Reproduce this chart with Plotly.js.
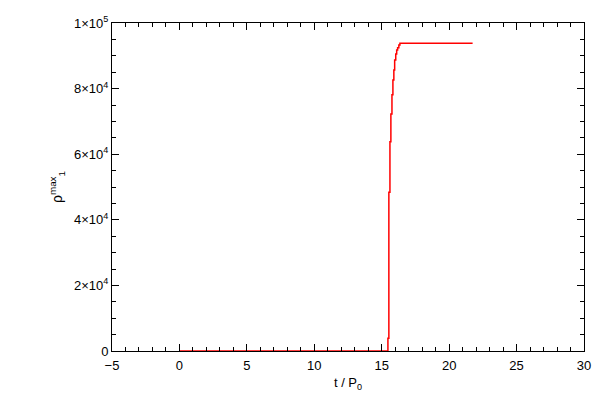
<!DOCTYPE html>
<html>
<head>
<meta charset="utf-8">
<script src="https://cdn.plot.ly/plotly-3.0.1.min.js"></script>
<style>html,body{margin:0;padding:0;background:#fff;}#chart{width:600px;height:400px;}</style>
</head>
<body>
<div id="chart"></div>
<script>
// time in units of P0
const tValues = [0, 15.46, 15.53, 15.61, 15.68, 15.76, 15.83, 15.90, 15.96, 16.04, 16.11, 16.18, 16.27, 16.35, 21.74];
// rho_1^max
const rhoValues = [0, 3870, 48380, 63810, 72260, 78140, 82620, 85670, 88720, 90550, 91770, 92470, 93290, 93810, 93810];

const xTickVals = [-5, 0, 5, 10, 15, 20, 25, 30];
const yTickVals = [0, 20000, 40000, 60000, 80000, 100000];
const yTickText = ['0', '2×10<sup>4</sup>', '4×10<sup>4</sup>', '6×10<sup>4</sup>', '8×10<sup>4</sup>', '1×10<sup>5</sup>'];

const trace = {
  x: tValues,
  y: rhoValues,
  type: 'scatter',
  mode: 'lines',
  line: {color: 'rgb(255,0,0)', width: 1.5, shape: 'hv'},
  hoverinfo: 'skip'
};

const font = {family: 'Liberation Sans, Arial, sans-serif', size: 13, color: '#000'};

const layout = {
  width: 600, height: 400,
  margin: {l: 112, r: 15.5, t: 23, b: 49, pad: 0},
  paper_bgcolor: '#fff', plot_bgcolor: '#fff',
  showlegend: false,
  font: font,
  xaxis: {
    range: [-5, 30],
    tickvals: xTickVals,
    ticks: 'inside', ticklen: 7, tickwidth: 1, tickcolor: '#000',
    minor: {ticks: 'inside', ticklen: 4, dtick: 1, tickcolor: '#000', showgrid: false},
    showline: true, linecolor: '#000', linewidth: 1, mirror: 'allticks',
    showgrid: false, zeroline: false,
    tickfont: font,
    ticklabelstandoff: 2,
    title: {text: 't / P<sub>0</sub>', font: font, standoff: 6}
  },
  yaxis: {
    range: [0, 100000],
    tickvals: yTickVals, ticktext: yTickText,
    ticks: 'inside', ticklen: 7, tickwidth: 1, tickcolor: '#000',
    minor: {ticks: 'inside', ticklen: 4, dtick: 5000, tickcolor: '#000', showgrid: false},
    showline: true, linecolor: '#000', linewidth: 1, mirror: 'allticks',
    showgrid: false, zeroline: false,
    tickfont: font,
    title: {text: 'ρ<sup>max</sup><sub>1</sub>', font: {family: font.family, size: 14, color: '#000'}, standoff: 8}
  }
};

Plotly.newPlot('chart', [trace], layout, {staticPlot: true, displayModeBar: false});
</script>
</body>
</html>
